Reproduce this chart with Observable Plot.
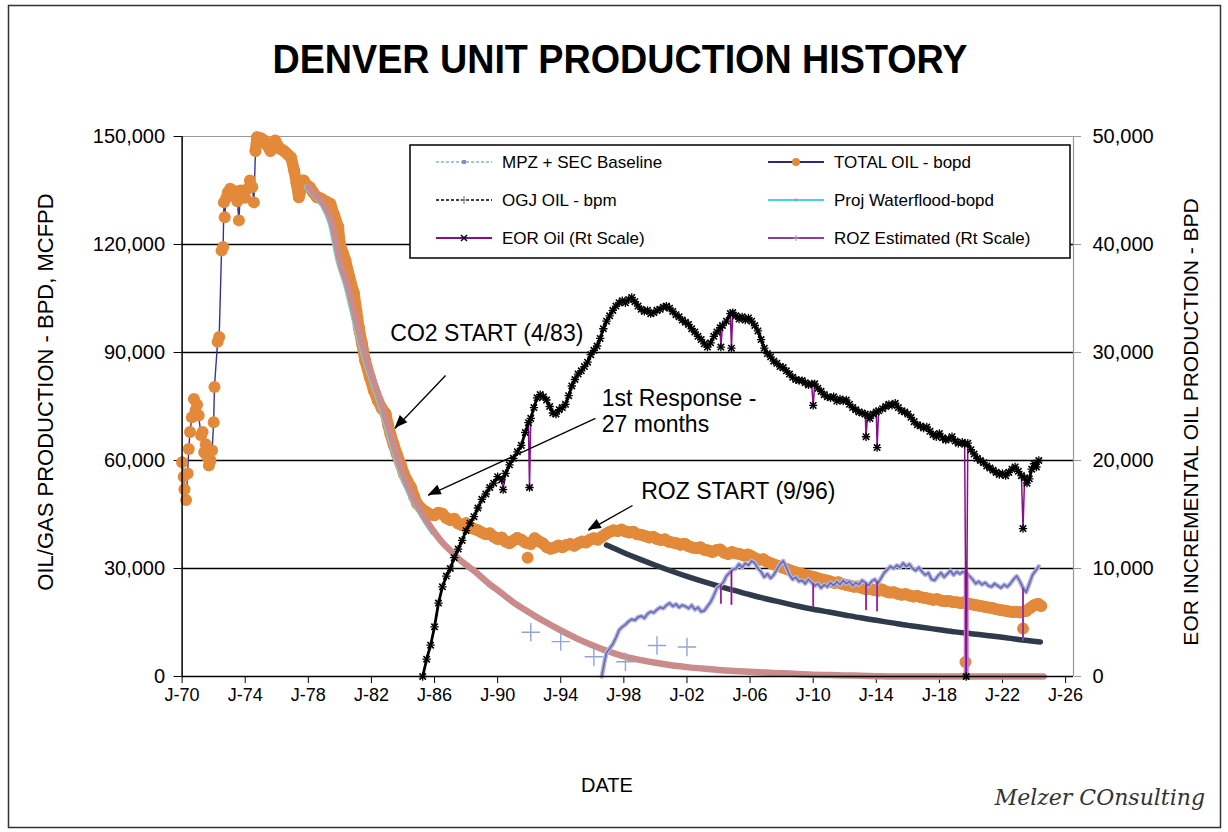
<!DOCTYPE html>
<html><head><meta charset="utf-8">
<script src="https://cdn.jsdelivr.net/npm/d3@7"></script>
<script src="https://cdn.jsdelivr.net/npm/@observablehq/plot@0.6"></script>
<style>
html,body{margin:0;padding:0;background:#fff}
#chart{width:1228px;height:832px;position:relative}
</style>
</head><body><div id="chart"></div>
<script>
// ---------- DATA ----------
const chartTitle = "DENVER UNIT PRODUCTION HISTORY";
const leftAxisTitle = "OIL/GAS PRODUCTION - BPD, MCFPD";
const rightAxisTitle = "EOR INCREMENTAL OIL PRODUCTION - BPD";
const xAxisTitle = "DATE";
const signature = "Melzer COnsulting";

const xTickYears = [1970,1974,1978,1982,1986,1990,1994,1998,2002,2006,2010,2014,2018,2022,2026];
const xTickLabels = ["J-70","J-74","J-78","J-82","J-86","J-90","J-94","J-98","J-02","J-06","J-10","J-14","J-18","J-22","J-26"];
const leftTicks = [0,30000,60000,90000,120000,150000];
const rightTicks = [0,10000,20000,30000,40000,50000];
const gridValues = [30000,60000,90000,120000];

// TOTAL OIL - bopd (left scale)
const totalOil = [
[1970.0,59500],[1970.1,55500],[1970.15,52000],[1970.25,49000],[1970.35,56400],[1970.42,63200],[1970.5,67900],[1970.62,72000],[1970.75,77100],[1970.85,73900],[1970.95,75500],[1971.05,72500],[1971.2,67000],[1971.3,67900],[1971.4,62300],[1971.5,64500],[1971.6,60900],[1971.7,58600],[1971.8,60000],[1971.9,62800],[1972.0,70600],[1972.05,80400],[1972.25,93000],[1972.35,94300],[1972.5,118300],[1972.6,119300],[1972.65,131700],[1972.7,127600],[1972.8,133000],[1972.9,134500],[1973.05,135500],[1973.2,133600],[1973.35,134800],[1973.5,132000],[1973.6,126700],[1973.7,135000],[1973.85,134200],[1974.0,133000],[1974.15,135500],[1974.3,137800],[1974.45,136000],[1974.55,131700],
[1974.65,146000],[1974.75,149800],[1975.0,149500],[1975.2,148900],[1975.4,147500],[1975.6,146000],[1975.75,147800],[1975.9,148900],[1976.05,147500],[1976.2,146600],[1976.4,146200],[1976.55,145600],[1976.75,144800],[1976.9,144200],[1977.1,140600],[1977.25,137000],[1977.4,133100],[1977.55,135500],[1977.7,137800],[1977.9,136500],[1978.1,135900],[1978.3,134500],[1978.55,133100],[1978.8,132800],[1979.1,132000],[1979.4,131300],[1979.65,128000],[1979.9,124800],[1980.0,120200],[1980.2,117500],[1980.35,115600],[1980.6,111000],[1980.9,106300],[1981.05,101500],[1981.2,97000],[1981.4,92500],[1981.6,87800],[1981.9,83100],[1982.15,79500],[1982.4,76700],[1982.65,74500],[1982.9,73000],[1983.05,70000],[1983.2,67400],[1983.4,64500],[1983.6,61900],[1983.85,59000],[1984.05,56300],[1984.25,54500],[1984.5,52600],[1984.7,50000],[1984.9,48000],[1985.2,46500],[1985.5,45600],
[1985.75,45000],[1986.0,44800],[1986.25,45500],[1986.5,45200],[1986.75,44000],[1987.0,43500],[1987.25,43800],[1987.5,42500],[1987.75,42000],[1988.0,42600],[1988.25,41500],[1988.5,41000],[1988.75,40600],[1989.0,40000],[1989.25,39500],[1989.5,39800],[1989.75,38800],[1990.0,38200],[1990.25,38600],[1990.5,37500],[1990.75,37000],[1991.0,37800],[1991.25,38500],[1991.5,38000],[1991.75,37200],[1992.1,36800],[1992.35,38400],[1992.6,37600],[1992.85,37000],[1993.1,36000],[1993.35,35500],[1993.6,35800],[1993.85,36400],[1994.1,35900],[1994.35,36500],[1994.6,36800],[1994.85,36300],[1995.1,37000],[1995.35,37500],[1995.6,37200],[1995.85,38000],[1996.1,38400],[1996.35,38000],[1996.6,38800],[1996.85,39600],[1997.1,40200],[1997.35,40600],[1997.6,40400],[1997.85,40800],[1998.1,40300],[1998.35,40000],[1998.6,40200],[1998.85,39500],[1999.1,39400],[1999.35,39000],[1999.6,38600],[1999.85,38800],[2000.1,38200],[2000.35,37900],[2000.6,38100],[2000.85,37400],[2001.1,37200],[2001.35,37000],[2001.6,36600],[2001.85,36900],[2002.1,36200],[2002.35,35800],[2002.6,35600],[2002.85,35900],[2003.1,35200],[2003.35,35000],[2003.6,34600],[2003.85,35100],[2004.1,35300],[2004.35,34400],[2004.6,34000],[2004.85,34600],[2005.1,34200],[2005.35,34000],[2005.6,33600],[2005.85,33900],[2006.1,33400],[2006.35,32800],[2006.6,32400],[2006.85,32600],[2007.1,31800],[2007.35,31400],[2007.6,31000],[2007.85,30600],[2008.1,30200],[2008.35,29800],[2008.6,29400],[2008.85,29000],[2009.1,28700],[2009.35,28400],[2009.6,28100],[2009.85,27800],[2010.1,27600],[2010.35,27200],[2010.6,26900],[2010.85,26700],[2011.1,26400],[2011.35,26000],[2011.6,26200],[2011.85,25700],[2012.1,25400],[2012.35,25200],[2012.6,24900],[2012.85,25000],[2013.1,24600],[2013.35,24200],[2013.6,24400],[2013.85,24000],[2014.1,23800],[2014.35,24200],[2014.6,23600],[2014.85,23300],[2015.1,23400],[2015.35,23000],[2015.6,22700],[2015.85,22900],[2016.1,22500],[2016.35,22200],[2016.6,22400],[2016.85,22000],[2017.1,21800],[2017.35,21600],[2017.6,21300],[2017.85,21500],[2018.1,21100],[2018.35,20900],[2018.6,21000],[2018.85,20700],[2019.1,20600],[2019.35,20400],[2019.55,20600],[2019.8,20300],[2020.1,20000],[2020.35,19800],[2020.6,19600],[2020.85,19400],[2021.1,19200],[2021.35,19000],[2021.6,18700],[2021.85,18500],[2022.1,18300],[2022.35,18100],[2022.6,17900],[2022.85,18000],[2023.1,17800],[2023.5,18200],[2023.75,19000],[2024.0,19800],[2024.25,20200],[2024.45,19600]
];
const totalOilOutliers = [[1991.9,33000],[2019.65,4000],[2023.3,13300]];

// MPZ + SEC Baseline / projected waterflood decline (left scale)
const baseline = [
[1978.0,136000],[1978.5,133500],[1979.0,131000],[1979.5,126000],[1980.0,115600],[1980.5,108500],[1981.0,99500],[1981.5,91000],[1982.0,83800],[1982.5,77500],[1983.0,70500],[1983.5,63000],[1984.0,56300],[1984.5,51000],[1985.0,47000],[1985.5,43300],[1986.0,40000],[1986.5,37200],[1987.0,35000],[1987.5,32800],[1988.0,31000],[1988.5,29400],[1989.0,27500],[1989.5,25600],[1990.0,24000],[1991.0,20600],[1992.0,17800],[1993.0,15200],[1994.0,12800],[1995.0,10600],[1996.0,8700],[1997.0,7000],[1998.0,5600],[1999.0,4600],[2000.0,3800],[2001.0,3100],[2002.0,2600],[2003.0,2200],[2004.0,1800],[2005.0,1500],[2006.0,1300],[2007.0,1100],[2008.0,900],[2009.0,700],[2010.0,500],[2011.0,400],[2012.0,300],[2013.0,200],[2014.0,100],[2015.0,0],[2024.6,0]
];

// OGJ OIL - bpm points (left scale)
const ogjOil = [[1992.1,12300],[1994.0,9700],[1996.1,5500],[1998.1,4100],[2000.1,8600],[2002.0,8200]];

// ROZ baseline decline (left scale)
const rozBaseline = [
[1996.9,36500],[1998.0,34400],[1999.0,32600],[2000.0,30900],[2001.0,29300],[2002.0,27800],[2003.0,26400],[2004.0,25100],[2005.0,23900],[2006.0,22700],[2007.0,21600],[2008.0,20600],[2009.0,19600],[2010.0,18700],[2011.0,17900],[2012.0,17100],[2013.0,16300],[2014.0,15600],[2015.0,14900],[2016.0,14200],[2017.0,13600],[2018.0,13000],[2019.0,12400],[2020.0,11900],[2021.0,11400],[2022.0,10900],[2023.0,10300],[2024.4,9600]
];

// EOR Oil (Rt Scale) - right-axis BPD
const eorOil = [
[1985.25,0],[1985.5,1600],[1985.75,2900],[1986.0,4600],[1986.25,6800],[1986.5,8300],[1986.75,9300],[1987.0,10000],[1987.25,11000],[1987.5,11800],[1987.75,12600],[1988.0,13500],[1988.25,14200],[1988.5,14800],[1988.75,15600],[1989.0,16400],[1989.25,16900],[1989.5,17500],[1989.75,17900],[1990.0,18500],[1990.25,18200],[1990.35,17300],[1990.5,18800],[1990.75,19600],[1991.0,20200],[1991.25,20800],[1991.5,21400],[1991.75,22600],[1991.95,23500],[1992.02,17500],[1992.1,23900],[1992.3,24900],[1992.5,25800],[1992.7,26100],[1992.9,25900],[1993.1,25600],[1993.3,25000],[1993.5,24400],[1993.7,24300],[1993.9,24700],[1994.1,24900],[1994.3,25200],[1994.5,26000],[1994.7,26900],[1994.9,27500],[1995.1,28000],[1995.3,28300],[1995.5,28700],[1995.7,29100],[1995.9,29800],[1996.1,30200],[1996.3,30600],[1996.5,31300],[1996.7,32200],[1996.9,32900],[1997.1,33400],[1997.3,33900],[1997.5,34300],[1997.7,34600],[1997.9,34800],[1998.1,34600],[1998.3,34900],[1998.5,35100],[1998.7,34700],[1998.9,34300],[1999.1,34000],[1999.3,33800],[1999.5,33900],[1999.7,33600],[1999.9,33700],[2000.1,33900],[2000.3,34000],[2000.5,34200],[2000.7,34300],[2000.9,34100],[2001.1,33800],[2001.3,33500],[2001.5,33300],[2001.7,33000],[2001.9,32800],[2002.1,32600],[2002.3,32200],[2002.5,31900],[2002.7,31500],[2002.9,31200],[2003.1,30800],[2003.3,30500],[2003.5,30900],[2003.7,31500],[2003.9,31900],[2004.1,32300],[2004.15,30500],[2004.25,32500],[2004.5,32900],[2004.75,33600],[2004.82,30400],[2004.9,33700],[2005.1,33400],[2005.3,33100],[2005.5,33300],[2005.7,33000],[2005.9,33200],[2006.1,32900],[2006.3,32500],[2006.5,32000],[2006.7,31200],[2006.9,30400],[2007.1,29900],[2007.3,29600],[2007.5,29200],[2007.7,29000],[2007.9,28700],[2008.1,28600],[2008.3,28300],[2008.5,28000],[2008.7,27700],[2008.9,27500],[2009.1,27400],[2009.3,27400],[2009.5,27200],[2009.7,27000],[2009.9,27100],[2010.0,25100],[2010.1,27100],[2010.3,26700],[2010.5,26400],[2010.7,26100],[2010.9,25900],[2011.1,25800],[2011.3,25900],[2011.5,25500],[2011.7,25700],[2011.9,25500],[2012.1,25600],[2012.3,25200],[2012.5,24900],[2012.7,24700],[2012.9,24500],[2013.1,24400],[2013.3,24300],[2013.35,22200],[2013.45,24200],[2013.6,23900],[2013.8,24300],[2014.0,24500],[2014.05,21200],[2014.15,24600],[2014.4,24800],[2014.6,25000],[2014.8,25200],[2015.0,25100],[2015.2,25300],[2015.4,24900],[2015.6,24600],[2015.8,24500],[2016.0,24300],[2016.2,24000],[2016.4,23600],[2016.6,23300],[2016.8,23200],[2017.0,23000],[2017.2,23100],[2017.4,22700],[2017.6,22400],[2017.8,22200],[2018.0,22500],[2018.2,22100],[2018.4,21900],[2018.6,22000],[2018.8,22200],[2019.0,21800],[2019.2,21600],[2019.45,21700],[2019.6,21500],[2019.7,0],[2019.8,21600],[2020.0,21000],[2020.2,20600],[2020.4,20200],[2020.6,20000],[2020.8,19800],[2021.0,19500],[2021.2,19300],[2021.4,19100],[2021.6,18900],[2021.8,18700],[2022.0,18800],[2022.2,18600],[2022.4,18900],[2022.6,19200],[2022.8,19400],[2023.0,19000],[2023.2,18600],[2023.3,13700],[2023.4,18400],[2023.55,17900],[2023.7,18300],[2023.85,19200],[2024.0,19700],[2024.15,19400],[2024.3,20000]
];
// dates of the single-month dips in the EOR series (drawn in purple only)
const eorDipYears = [1990.35,1992.02,2004.15,2004.82,2010.0,2013.35,2014.05,2019.7,2023.3];

// ROZ Estimated (Rt Scale) - right-axis BPD
const rozEstimated = [
[1996.6,0],[1996.75,1200],[1996.9,2200],[1997.1,2600],[1997.3,3000],[1997.5,3600],[1997.7,4300],[1997.9,4600],[1998.1,4800],[1998.3,5100],[1998.5,5300],[1998.7,5200],[1998.9,5500],[1999.1,5600],[1999.3,5400],[1999.5,5800],[1999.7,6000],[1999.9,5900],[2000.1,6200],[2000.3,6400],[2000.5,6300],[2000.7,6600],[2000.9,6800],[2001.1,6500],[2001.3,6700],[2001.5,6400],[2001.7,6600],[2001.9,6500],[2002.1,6300],[2002.3,6600],[2002.5,6200],[2002.7,6400],[2002.9,6000],[2003.1,6100],[2003.3,6500],[2003.5,6900],[2003.7,7500],[2003.9,8200],[2004.1,8400],[2004.3,8700],[2004.5,9300],[2004.7,9600],[2004.9,9900],[2005.1,10000],[2005.3,10400],[2005.5,10100],[2005.7,10500],[2005.9,10300],[2006.1,10700],[2006.3,10500],[2006.5,10000],[2006.7,9700],[2006.9,9200],[2007.1,9500],[2007.3,9100],[2007.5,9400],[2007.7,9900],[2007.9,10400],[2008.1,10700],[2008.3,10100],[2008.5,9400],[2008.7,9000],[2008.9,9200],[2009.1,8800],[2009.3,8900],[2009.5,8600],[2009.7,9000],[2009.9,8700],[2010.1,8400],[2010.3,8600],[2010.5,8200],[2010.7,8500],[2010.9,8300],[2011.1,8700],[2011.3,8400],[2011.5,8800],[2011.7,8500],[2011.9,8900],[2012.1,8600],[2012.3,8800],[2012.5,8400],[2012.7,8700],[2012.9,8500],[2013.1,8900],[2013.3,8700],[2013.5,8400],[2013.7,8800],[2013.9,9000],[2014.1,8600],[2014.3,9100],[2014.5,9600],[2014.7,9900],[2014.9,10200],[2015.1,10000],[2015.3,10300],[2015.5,10100],[2015.7,10500],[2015.9,10200],[2016.1,10400],[2016.3,10000],[2016.5,9800],[2016.7,10100],[2016.9,9700],[2017.1,9400],[2017.3,9600],[2017.5,9000],[2017.7,8900],[2017.9,9300],[2018.1,9600],[2018.3,9200],[2018.5,9500],[2018.7,9800],[2018.9,9400],[2019.1,9700],[2019.3,9500],[2019.5,9700],[2019.7,9600],[2019.9,9300],[2020.1,9000],[2020.3,8600],[2020.5,8800],[2020.7,8500],[2020.9,8700],[2021.1,8400],[2021.3,8300],[2021.5,8600],[2021.7,8400],[2021.9,8200],[2022.1,8500],[2022.3,8300],[2022.5,8600],[2022.7,9000],[2022.9,9300],[2023.1,8800],[2023.3,8200],[2023.5,7800],[2023.7,8600],[2023.9,9400],[2024.1,9800],[2024.3,10200]
];
// ROZ dips: [year, from, to] right-axis BPD
const rozSpikes = [[2004.15,8500,6700],[2004.82,9800,6600],[2010.0,8600,6400],[2013.35,8600,6100],[2014.05,8800,6000],[2019.7,9600,0],[2023.3,8200,3300]];

const annotations = [
  {x:1983.2, y:95300, text:"CO2 START (4/83)"},
  {x:1996.6, y:77200, text:"1st Response -"},
  {x:1996.6, y:70000, text:"27 months"},
  {x:1999.1, y:51400, text:"ROZ START (9/96)"}
];
const arrows = [
  {x1:1986.7, y1:83600, x2:1983.5, y2:68900},
  {x1:1996.2, y1:71700, x2:1985.6, y2:50300},
  {x1:1998.55, y1:47500, x2:1995.75, y2:40600}
];

const legendItems = [
  {label:"MPZ + SEC Baseline", col:0, row:0, kind:"mpz"},
  {label:"OGJ OIL - bpm", col:0, row:1, kind:"ogj"},
  {label:"EOR Oil (Rt Scale)", col:0, row:2, kind:"eor"},
  {label:"TOTAL OIL - bopd", col:1, row:0, kind:"total"},
  {label:"Proj Waterflood-bopd", col:1, row:1, kind:"proj"},
  {label:"ROZ Estimated (Rt Scale)", col:1, row:2, kind:"roz"}
];

// ---------- RENDER ----------
const RIGHT_RATIO = leftTicks[leftTicks.length-1] / rightTicks[rightTicks.length-1];
const FONT = "'Liberation Sans', Arial, Helvetica, sans-serif";
const W = 1228, H = 832;
const ORANGE = "#E3893A", PINK = "#C98B8C", NAVY = "#2F3B4B", PURPLE = "#86108a";

const pts = a => a.map(([x, y]) => ({x, y}));
const total = pts(totalOil);
const totalBand = total.filter(d => d.x >= 1974.6);
const outl = pts(totalOilOutliers);
const base = pts(baseline);
const eor = pts(eorOil);
const eorMain = eor.filter(d => !eorDipYears.includes(d.x));
const roz = pts(rozEstimated);
const rozB = pts(rozBaseline);
const ogj = pts(ogjOil);
const spikes = rozSpikes.map(([x, a, b]) => ({x, a, b}));
const yR = d => d.y * RIGHT_RATIO;

const plot = Plot.plot({
  width: W, height: H,
  marginLeft: 181.6, marginRight: W - 1073, marginTop: 136, marginBottom: H - 676,
  x: {domain: [1970, 2026.5], axis: null},
  y: {domain: [0, 150000], axis: null},
  style: {fontFamily: FONT, background: "white", overflow: "visible"},
  marks: [
    Plot.ruleY(gridValues, {stroke: "#000", strokeWidth: 1.3}),
    Plot.ruleY([150000], {stroke: "#999", strokeWidth: 1.2}),
    Plot.ruleX([2026.5], {stroke: "#999", strokeWidth: 1.2}),
    Plot.axisY({anchor: "left", ticks: leftTicks, tickFormat: d3.format(","), tickSize: 8, tickPadding: 9, fontSize: 20, label: null, stroke: "#000"}),
    Plot.axisY({anchor: "right", ticks: leftTicks, tickFormat: v => d3.format(",")(v / RIGHT_RATIO), tickSize: 7, tickPadding: 12, fontSize: 20, label: null, stroke: "#999"}),
    Plot.axisX({ticks: xTickYears, tickFormat: d => xTickLabels[xTickYears.indexOf(d)], tickSize: 7, tickPadding: 5, fontSize: 18, label: null, stroke: "#000"}),
    // total oil
    Plot.line(total, {x: "x", y: "y", stroke: "#33339a", strokeWidth: 1.4}),
    Plot.line(totalBand, {x: "x", y: "y", stroke: ORANGE, strokeWidth: 11.5, strokeLinejoin: "round", strokeLinecap: "round"}),
    Plot.dot(total, {x: "x", y: "y", r: 6, fill: ORANGE}),
    Plot.dot(outl, {x: "x", y: "y", r: 6, fill: ORANGE}),
    // baseline decline
    Plot.line(base.filter(d => d.x <= 1986), {x: "x", y: "y", stroke: "#74d2d6", strokeWidth: 5, dx: -2, curve: "monotone-x"}),
    Plot.line(base, {x: "x", y: "y", stroke: PINK, strokeWidth: 6.5, curve: "monotone-x"}),
    // ROZ baseline
    Plot.line(rozB, {x: "x", y: "y", stroke: NAVY, strokeWidth: 5.5, curve: "monotone-x"}),
    // OGJ points
    Plot.dot(ogj, {x: "x", y: "y", symbol: "plus", r: 6, stroke: "#8fa6cf", strokeWidth: 1.4}),
    // ROZ estimated (right scale)
    Plot.line(roz, {x: "x", y: yR, stroke: "#b3b5df", strokeWidth: 4.5}),
    Plot.line(roz, {x: "x", y: yR, stroke: "#6769b3", strokeWidth: 1.6}),
    Plot.ruleX(spikes, {x: "x", y1: d => d.a * RIGHT_RATIO, y2: d => d.b * RIGHT_RATIO, stroke: "#c77ac7", strokeWidth: d => d.b === 0 ? 5 : 2}),
    Plot.ruleX(spikes, {x: "x", y1: d => d.a * RIGHT_RATIO, y2: d => d.b * RIGHT_RATIO, stroke: PURPLE, strokeWidth: 1.3}),
    // EOR oil (right scale)
    Plot.line(eor, {x: "x", y: yR, stroke: PURPLE, strokeWidth: 1.5}),
    Plot.line(eorMain, {x: "x", y: yR, stroke: "#000", strokeWidth: 2.8}),
    Plot.dot(eor, {x: "x", y: yR, symbol: "times", r: 3, stroke: "#000", strokeWidth: 1.6}),
    Plot.dot(eor, {x: "x", y: yR, symbol: "plus", r: 2.8, stroke: "#000", strokeWidth: 1.3}),
    // axes lines
    Plot.ruleX([1970], {stroke: "#000", strokeWidth: 1.5}),
    Plot.ruleY([0], {stroke: "#000", strokeWidth: 1.5}),
    // annotations
    Plot.link(arrows, {x1: "x1", y1: "y1", x2: "x2", y2: "y2", stroke: "#000", strokeWidth: 1.3}),
    Plot.text(annotations, {x: "x", y: "y", text: "text", textAnchor: "start", fontSize: 23, fill: "#000", fontFamily: FONT})
  ]
});

document.getElementById("chart").appendChild(plot);
const svg = d3.select(plot);
const sx = plot.scale("x"), sy = plot.scale("y");

// filled arrowheads at arrow ends (through the plot's scales)
arrows.forEach(a => {
  const x1 = sx.apply(a.x1), y1 = sy.apply(a.y1), x2 = sx.apply(a.x2), y2 = sy.apply(a.y2);
  const ang = Math.atan2(y2 - y1, x2 - x1), L = 14, s = 0.38;
  const p1 = [x2 - L * Math.cos(ang - s), y2 - L * Math.sin(ang - s)];
  const p2 = [x2 - L * Math.cos(ang + s), y2 - L * Math.sin(ang + s)];
  svg.append("path").attr("d", `M${x2},${y2}L${p1[0]},${p1[1]}L${p2[0]},${p2[1]}Z`).attr("fill", "#000");
});

// Frame
svg.append("rect").attr("x", 8.5).attr("y", 5.5).attr("width", 1212).attr("height", 822)
  .attr("fill", "none").attr("stroke", "#333").attr("stroke-width", 1.5);

// Title
svg.append("text").attr("x", 620).attr("y", 73).attr("text-anchor", "middle")
  .attr("font-family", FONT).attr("font-weight", "bold").attr("font-size", 40)
  .attr("textLength", 695).attr("lengthAdjust", "spacingAndGlyphs").text(chartTitle);

// axis titles
svg.append("text").attr("transform", "translate(45,392) rotate(-90)").attr("text-anchor", "middle")
  .attr("dominant-baseline", "central").attr("font-family", FONT).attr("font-size", 22).text(leftAxisTitle);
svg.append("text").attr("transform", "translate(1190,422) rotate(-90)").attr("text-anchor", "middle")
  .attr("dominant-baseline", "central").attr("font-family", FONT).attr("font-size", 21).text(rightAxisTitle);
svg.append("text").attr("x", 607).attr("y", 792).attr("text-anchor", "middle")
  .attr("font-family", FONT).attr("font-size", 20).text(xAxisTitle);

// signature
svg.append("text").attr("x", 1205).attr("y", 805).attr("text-anchor", "end")
  .attr("font-family", "'DejaVu Serif', serif").attr("font-style", "italic").attr("font-size", 22)
  .attr("fill", "#333").text(signature);

// Legend
const lg = svg.append("g");
const LX = 410, LY = 145, LW = 660, LH = 113;
lg.append("rect").attr("x", LX).attr("y", LY).attr("width", LW).attr("height", LH)
  .attr("fill", "white").attr("stroke", "#000").attr("stroke-width", 1.5);
const colX = [436, 768], rowY = [162, 200, 238], sampleW = 56;
legendItems.forEach(it => {
  const x0 = colX[it.col], y0 = rowY[it.row], xm = x0 + sampleW / 2;
  const line = (stroke, w, dash) => lg.append("line").attr("x1", x0).attr("x2", x0 + sampleW)
    .attr("y1", y0).attr("y2", y0).attr("stroke", stroke).attr("stroke-width", w).attr("stroke-dasharray", dash || null);
  if (it.kind === "mpz") { line("#8cb2d6", 1.5, "3,2"); lg.append("rect").attr("x", xm - 2).attr("y", y0 - 2).attr("width", 4).attr("height", 4).attr("fill", "#7d96bd"); }
  if (it.kind === "ogj") { line("#000", 1.3, "3,2"); lg.append("path").attr("d", `M${xm-4},${y0}H${xm+4}M${xm},${y0-4}V${y0+4}`).attr("stroke", "#888").attr("stroke-width", 1.2); }
  if (it.kind === "eor") { line(PURPLE, 1.8); lg.append("path").attr("d", `M${xm-3},${y0-3}L${xm+3},${y0+3}M${xm-3},${y0+3}L${xm+3},${y0-3}`).attr("stroke", "#000").attr("stroke-width", 1.5); }
  if (it.kind === "total") { line("#2a2a78", 1.8); lg.append("circle").attr("cx", xm).attr("cy", y0).attr("r", 4).attr("fill", ORANGE); }
  if (it.kind === "proj") { line("#45d3df", 2.2); lg.append("rect").attr("x", xm - 1.5).attr("y", y0 - 1.5).attr("width", 3).attr("height", 3).attr("fill", "#9aa"); }
  if (it.kind === "roz") { line("#8e3f9e", 1.8); lg.append("path").attr("d", `M${xm-3},${y0}H${xm+3}M${xm},${y0-3}V${y0+3}`).attr("stroke", "#999").attr("stroke-width", 1); }
  lg.append("text").attr("x", x0 + sampleW + 10).attr("y", y0).attr("text-anchor", "start").attr("dominant-baseline", "central")
    .attr("font-family", FONT).attr("font-size", 17).attr("fill", "#000").text(it.label);
});
</script></body></html>
